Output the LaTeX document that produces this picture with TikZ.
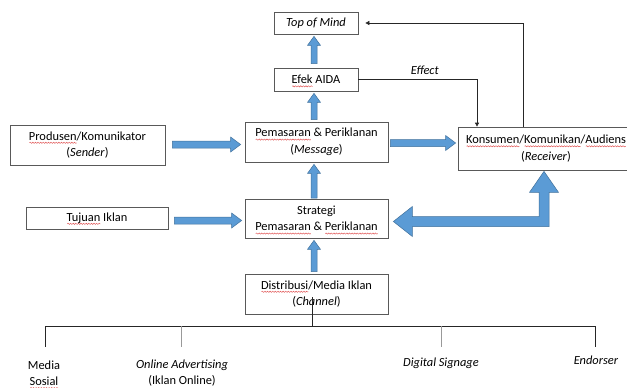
\documentclass[tikz,border=0pt]{standalone}
\usepackage{fontspec}
\setmainfont{Carlito}
\usetikzlibrary{calc,arrows.meta,decorations.pathmorphing}
\definecolor{abl}{HTML}{5B9BD5}
\definecolor{abd}{HTML}{41719C}
\definecolor{bord}{HTML}{595959}
\definecolor{sqred}{HTML}{E05050}
\newsavebox\sqbox
\newcommand\sq[1]{\sbox\sqbox{#1}\makebox[0pt][l]{\tikz[baseline=0pt,x=1pt,y=1pt]{\useasboundingbox (0,0);
  \draw[sqred, line width=0.45pt, decorate, decoration={snake, amplitude=0.6pt, segment length=2.6pt}] (0.5,-2.6) -- (\wd\sqbox,-2.6);}}\usebox\sqbox}
\newcommand\fatarrow[5]{%
  \coordinate (fah) at ($(#2)!#5!(#1)$);
  \filldraw[fill=abl, draw=abd, line width=0.5pt]
   ($(#1)!#3!90:(#2)$) -- ($(fah)!#3!-90:(#1)$) -- ($(fah)!#4!-90:(#1)$) -- (#2)
   -- ($(fah)!#4!90:(#1)$) -- ($(fah)!#3!90:(#1)$) -- ($(#1)!#3!-90:(#2)$) -- cycle;}
\begin{document}
\begin{tikzpicture}[x=1pt,y=-1pt,
  box/.style={draw=bord, line width=0.7pt, fill=white, align=center, inner sep=0pt},
  lbl/.style={align=center, inner sep=0pt},
  tline/.style={draw=black!85, line width=0.7pt},
  gline/.style={draw=black!40, line width=0.7pt},
  tip/.style={-{Triangle[width=4pt,length=4pt]}},
  every node/.style={font=\fontsize{12.4}{16.5}\selectfont}]
\useasboundingbox (0,0) rectangle (627,388);
\clip (0,0) rectangle (627,388);
% boxes
\node[box, minimum width=84pt, minimum height=22pt] (top) at (316,23) {\textit{Top of Mind}};
\node[box, minimum width=84pt, minimum height=23pt] (efek) at (316,79.5) {\sq{Efek} AIDA};
\node[box, minimum width=143pt, minimum height=40pt] (msg) at (316.5,142) {\sq{Pemasaran} \& Periklanan\\(\textit{Message})};
\node[box, minimum width=155pt, minimum height=40pt] (prod) at (87.5,145) {\sq{Produsen}/Komunikator\\(\textit{Sender})};
\node[box, minimum width=176pt, minimum height=43pt] (kons) at (546,148.5) {\sq{Konsumen}/\sq{Komunikan}/\sq{Audiens}\\(\textit{Receiver})};
\node[box, minimum width=142pt, minimum height=22pt] (tuj) at (97,218) {\sq{Tujuan} Iklan};
\node[box, minimum width=143pt, minimum height=39pt] (strat) at (316.5,218.5) {Strategi\\\sq{Pemasaran} \& \sq{Periklanan}};
\node[box, minimum width=143pt, minimum height=40pt] (dist) at (316.5,294) {\sq{Distribusi}/Media Iklan\\(\textit{Channel})};
% vertical block arrows
\coordinate (a1s) at ([xshift=-2pt,yshift=4pt]efek.north);
\coordinate (a1e) at ([xshift=-2pt,yshift=-2pt]top.south);
\fatarrow{a1s}{a1e}{3pt}{6.5pt}{9pt}
\coordinate (a2s) at ([xshift=-2.5pt,yshift=2pt]msg.north);
\coordinate (a2e) at ([xshift=-2pt,yshift=-2pt]efek.south);
\fatarrow{a2s}{a2e}{3pt}{6.5pt}{9pt}
\coordinate (a3s) at ([xshift=-2.5pt,yshift=0.5pt]strat.north);
\coordinate (a3e) at ([xshift=-2.5pt,yshift=-2pt]msg.south);
\fatarrow{a3s}{a3e}{3pt}{6.5pt}{9pt}
\coordinate (a4s) at ([xshift=-2.5pt,yshift=2pt]dist.north);
\coordinate (a4e) at ([xshift=-2.5pt,yshift=-2pt]strat.south);
\fatarrow{a4s}{a4e}{3pt}{6.5pt}{9pt}
% horizontal block arrows
\coordinate (a5s) at ([xshift=7pt,yshift=0.5pt]prod.east);
\coordinate (a5x) at (a5s -| msg.west);
\coordinate (a5e) at ([xshift=-4pt]a5x);
\fatarrow{a5s}{a5e}{3.5pt}{7.5pt}{10pt}
\coordinate (a6s) at ([xshift=2pt,yshift=-1pt]msg.east);
\coordinate (a6x) at (a6s -| kons.west);
\coordinate (a6e) at ([xshift=-2pt]a6x);
\fatarrow{a6s}{a6e}{3.5pt}{7.5pt}{10pt}
\coordinate (a7s) at ([xshift=6pt,yshift=-2.5pt]tuj.east);
\coordinate (a7x) at (a7s -| strat.west);
\coordinate (a7e) at ([xshift=-3pt]a7x);
\fatarrow{a7s}{a7e}{3.5pt}{7.5pt}{10pt}
% big two-headed elbow arrow
\coordinate (bu) at ([xshift=-2pt,yshift=-1pt]kons.south);
\coordinate (bl) at ([xshift=5pt,yshift=-3pt]strat.east);
\filldraw[fill=abl, draw=abd, line width=0.5pt] let \p1=(bu), \p2=(bl) in
  (\p2) -- (\x2+19pt,\y2+15pt) -- (\x2+19pt,\y2+5pt) -- (\x1-5pt,\y2+5pt)
  -- (\x1-5pt,\y1-21pt) -- (\x1-14.5pt,\y1-21pt) -- (\p1) -- (\x1+14.5pt,\y1-21pt)
  -- (\x1+5pt,\y1-21pt) -- (\x1+5pt,\y2-5pt) -- (\x2+19pt,\y2-5pt) -- (\x2+19pt,\y2-15pt) -- cycle;
% thin connectors
\coordinate (effin) at ([xshift=-69pt]kons.north);
\draw[tline, tip] (efek.east) -| node[pos=0.28, above, yshift=1pt, font=\fontsize{12.4}{16.5}\selectfont\itshape] (efl) {Effect} (effin);
\coordinate (tomout) at ([xshift=-23pt]kons.north);
\draw[tline, tip, shorten >=7pt] (tomout) |- (top.east);
% channel tree
\coordinate (hub) at (312,326);
\draw[tline] ([xshift=-4.5pt,yshift=-3pt]dist.center) -- (hub);
\coordinate (d1) at (45,347);
\coordinate (d2) at (181,347);
\coordinate (d3) at (441,347);
\coordinate (d4) at (595,347);
\draw[tline] (d1 |- hub) -- (d4 |- hub);
\draw[tline] (d1 |- hub) -- (d1);
\draw[gline] (d2 |- hub) -- (d2);
\draw[gline] (d3 |- hub) -- (d3);
\draw[tline] (d4 |- hub) -- (d4);
\node[lbl] (ms) at (44,373) {Media\\\sq{Sosial}};
\node[lbl] (oa) at (182,373) {\textit{Online Advertising}\\(Iklan Online)};
\node[lbl] (ds) at (441,363) {\textit{Digital Signage}};
\node[lbl] (en) at (596,360) {\textit{Endorser}};
\end{tikzpicture}
\end{document}
